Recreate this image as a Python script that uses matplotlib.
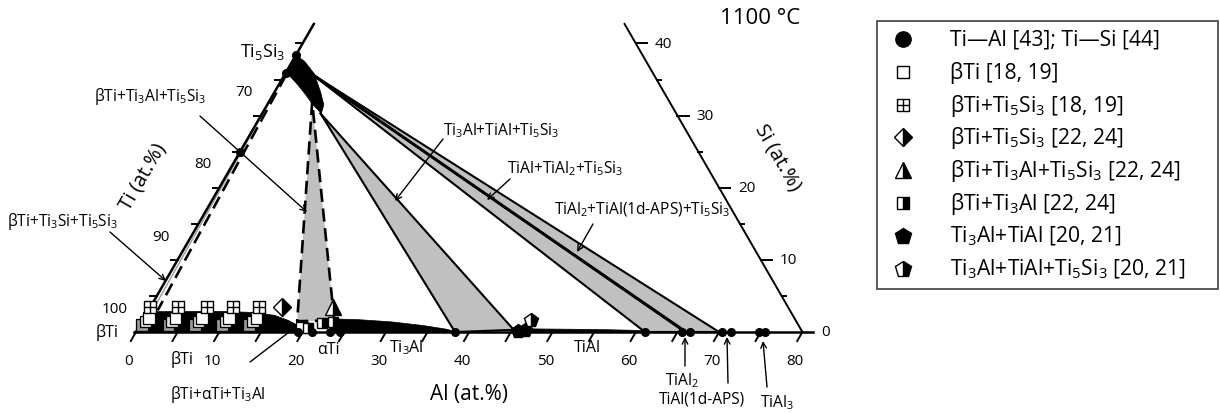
import numpy as np
import matplotlib
matplotlib.use("Agg")
import matplotlib.pyplot as plt
from matplotlib.path import Path
from matplotlib.patches import Rectangle

plt.rcParams['font.family'] = ['Open Sans', 'DejaVu Sans']
plt.rcParams['mathtext.fontset'] = 'custom'
plt.rcParams['mathtext.rm'] = 'Open Sans'
plt.rcParams['mathtext.default'] = 'regular'

# ---------------- data: compositions as (Al at.%, Si at.%) ----------------
# single-phase fields
bti_al = [0, 0, 4, 9, 13, 15.5, 17.5, 19, 20.5]
bti_si = [0, 2.8, 2.85, 2.85, 2.7, 2.3, 1.6, 0.9, 0]
ti3al_al = [23.2, 23.3, 26, 30, 34, 37, 38.6]
ti3al_si = [0, 1.8, 1.7, 1.4, 0.9, 0.4, 0]
tial_al = [45.5, 45.5, 50, 55, 61.1, 61.1]
tial_si = [0, 0.45, 0.4, 0.35, 0.2, 0]
ti5si3_al = [0, 1.5, 3.5, 5.5, 6.8, 7.1, 5.5, 3.8, 2.0, 0.3, 0]
ti5si3_si = [38.4, 37.5, 35.8, 33.3, 31.5, 30.3, 31.5, 33, 34.5, 35.8, 36]

# three-phase triangles
tri1_al, tri1_si = [5.2, 18.6, 23.0], [31.9, 1.5, 1.6]      # bTi+Ti3Al+Ti5Si3 (dashed)
tri2_al, tri2_si = [7.0, 38.3, 45.2], [30.3, 0, 0.3]        # Ti3Al+TiAl+Ti5Si3
tri3_al, tri3_si = [3.8, 61.1, 65.9], [35.4, 0, 0]          # TiAl+TiAl2+Ti5Si3
tri4_al, tri4_si = [2.2, 66.1, 70.0], [36.3, 0, 0]          # TiAl2+TiAl(1d-APS)+Ti5Si3
tial2_line_al, tial2_line_si = [3.0, 66.0], [35.9, 0]       # TiAl2+Ti5Si3
bts_dash_al, bts_dash_si = [0.2, 1.1], [35.6, 3.0]          # bTi+Ti5Si3 boundary
bts_thin_al, bts_thin_si = [0.0, 0.5], [36.0, 2.8]

# binary data Ti-Al [43]; Ti-Si [44]
dot_al = [0, 0, 0, 19.5, 21.1, 23.3, 24.5, 38.3, 61.1, 65.5, 66.5, 70.3, 71.4, 74.8, 75.5]
dot_si = [38.4, 35.9, 24.9, 0, 0, 0, 0, 0, 0, 0, 0, 0, 0, 0, 0]

# bTi [18, 19]
bti_sq_al = [0.2, 0.4, 0.6, 3.4, 3.6, 3.8, 6.6, 6.8, 7.0, 9.8, 10.0, 10.2, 13.1, 13.3, 13.5, 19.6]
bti_sq_si = [1.0, 1.45, 1.9] * 5 + [0.6]
# bTi+Ti5Si3 [18, 19]
bts_al = [0.0, 3.4, 6.8, 10.0, 13.1]
bts_si = [3.4, 3.4, 3.4, 3.4, 3.4]
# bTi+Ti5Si3 [22, 24]
bts2_al, bts2_si = [15.8], [3.4]
# bTi+Ti3Al+Ti5Si3 [22, 24]
btt_al, btt_si = [22.0], [3.4]
# bTi+Ti3Al [22, 24]
bt3_al, bt3_si = [20.3, 21.7, 23.0], [0.6, 1.2, 1.4]
# Ti3Al+TiAl [20, 21]
t3t_al, t3t_si = [45.8, 46.6], [0.2, 0.3]
# Ti3Al+TiAl+Ti5Si3 [20, 21]
t3tt_al, t3tt_si = [46.6], [1.6]

bottom_ticks = list(range(0, 81, 5))
side_ticks = list(range(5, 45, 5))

# ---------------- helpers ----------------
R3 = np.sqrt(3) / 2
SCALE, OX, OY = 8.33, 136, 333


def cart(al, si):
    al = np.asarray(al, dtype=float)
    si = np.asarray(si, dtype=float)
    return al + si / 2, si * R3


def px(x, y):
    return (x - OX) / SCALE, (OY - y) / SCALE


fig = plt.figure(figsize=(12.2, 4.14), dpi=100)
ax = fig.add_axes([0, 0, 1, 1])
ax.set_xlim(px(0, 0)[0], px(1220, 0)[0])
ax.set_ylim(px(0, 414)[1], px(0, 0)[1])
ax.set_axis_off()

GRAY = '#c0c0c0'

# three-phase fields
for a, s, ls in [(tri1_al, tri1_si, (0, (5, 2.5))), (tri2_al, tri2_si, '-'),
                 (tri3_al, tri3_si, '-'), (tri4_al, tri4_si, '-')]:
    x, y = cart(a, s)
    ax.fill(x, y, color=GRAY, zorder=1, lw=0)
    ax.plot(np.r_[x, x[0]], np.r_[y, y[0]], color='black', lw=1.5 if ls == '-' else 1.9,
            linestyle=ls, zorder=2)

ax.plot(*cart(tial2_line_al, tial2_line_si), color='black', lw=2.0, zorder=2)
ax.plot(*cart(bts_dash_al, bts_dash_si), color='black', lw=1.9, linestyle=(0, (5, 2.5)), zorder=2)
ax.plot(*cart(bts_thin_al, bts_thin_si), color='#9a9a9a', lw=1.0, zorder=2)

# single-phase fields
for a, s in [(bti_al, bti_si), (ti3al_al, ti3al_si), (tial_al, tial_si), (ti5si3_al, ti5si3_si)]:
    ax.fill(*cart(a, s), color='black', lw=0.5, zorder=3)

# axes
ax.plot(*cart([-0.2, 81.3], [0, 0]), color='black', lw=1.8, zorder=4)
ax.plot(*cart([0, 0], [0, 42.7]), color='black', lw=1.8, zorder=4)
ax.plot(*cart([80, 80 - 42.7], [0, 42.7]), color='black', lw=1.4, zorder=4)

tl = 1.25
for a in bottom_ticks:
    x0, y0 = cart(a, 0)
    ax.plot([x0, x0 - 0.5 * tl], [y0, y0 - R3 * tl], color='black', lw=1.4, zorder=4)
    if a % 10 == 0:
        ax.text(x0 - 0.85, -3.45, str(a), ha='center', va='center', fontsize=11)
for s in side_ticks:
    x0, y0 = cart(0, s)
    ax.plot([x0, x0 - 0.8], [y0, y0], color='black', lw=1.4, zorder=4)
    x1, y1 = cart(80 - s, s)
    ax.plot([x1, x1 + (1.35 if s % 10 == 0 else 0.5)], [y1, y1], color='black', lw=1.4, zorder=4)
    if s % 10 == 0:
        ax.text(x1 + 2.3, y1, str(s), ha='left', va='center', fontsize=11)
        if s <= 30:
            ax.text(x0 - 0.95, y0 + 2.85, str(100 - s), ha='right', va='center', fontsize=11)
ax.text(-0.95 - 0.1, 2.8, '100', ha='right', va='center', fontsize=11)
ax.text(80 + 2.3, 0, '0', ha='left', va='center', fontsize=11)

# markers
ax.scatter(*cart(bti_sq_al, bti_sq_si), marker='s', s=70,
           facecolors=['#9a9a9a', '#e0e0e0', 'white'] * 5 + ['white'],
           edgecolors='black', linewidths=0.9, zorder=5)
cross_sq = Path([(-1, -1), (1, -1), (1, 1), (-1, 1), (-1, -1), (0, -1), (0, 1), (-1, 0), (1, 0)],
                [Path.MOVETO, Path.LINETO, Path.LINETO, Path.LINETO, Path.CLOSEPOLY,
                 Path.MOVETO, Path.LINETO, Path.MOVETO, Path.LINETO])
ax.plot(*cart(bts_al, bts_si), ls='none', marker=cross_sq, ms=9, mfc='white', mec='black', mew=1.0, zorder=5)
half = dict(ls='none', fillstyle='right', mfc='black', mfcalt='white', mec='black', mew=1.0, zorder=6)
ax.plot(*cart(bts2_al, bts2_si), marker='D', ms=9, **half)
ax.plot(*cart(btt_al, btt_si), marker='^', ms=11, **half)
ax.plot(*cart(bt3_al, bt3_si), marker='s', ms=7, **half)
ax.plot(*cart(t3t_al, t3t_si), ls='none', marker='p', ms=10, color='black', zorder=6)
ax.plot(*cart(t3tt_al, t3tt_si), marker='p', ms=10, **half)
ax.plot(*cart(dot_al, dot_si), ls='none', marker='o', ms=5.5, color='black', zorder=7)

# text labels
ax.text(*px(760, 19), '1100 °C', ha='center', va='center', fontsize=16)
ax.text(*px(143, 177), 'Ti (at.%)', ha='center', va='center', fontsize=14.5, rotation=60)
ax.text(*px(778, 158), 'Si (at.%)', ha='center', va='center', fontsize=14.5, rotation=-60)
ax.text(*px(469, 395), 'Al (at.%)', ha='center', va='center', fontsize=15)
ax.text(*px(263, 52), 'Ti$_5$Si$_3$', ha='center', va='center', fontsize=13)
for t, (x, y) in [('βTi', (107, 333)), ('βTi', (182, 360)), ('αTi', (328, 350)),
                  ('Ti$_3$Al', (406, 348)), ('TiAl', (587, 348))]:
    ax.text(*px(x, y), t, ha='center', va='center', fontsize=11.5)

notes = [
    ('βTi+Ti$_3$Al+Ti$_5$Si$_3$', (150, 97), (200, 117), (307, 213)),
    ('βTi+Ti$_3$Si+Ti$_5$Si$_3$', (62, 222), (110, 233), (166, 282)),
    ('βTi+αTi+Ti$_3$Al', (218, 395), (250, 363), (297, 327)),
    ('Ti$_3$Al+TiAl+Ti$_5$Si$_3$', (501, 131), (443, 140), (395, 202)),
    ('TiAl+TiAl$_2$+Ti$_5$Si$_3$', (565, 169), (510, 180), (487, 201)),
    ('TiAl$_2$+TiAl(1d-APS)+Ti$_5$Si$_3$', (642, 210), (593, 225), (577, 253)),
    ('TiAl$_2$', (682, 381), (685, 367), (685, 338)),
    ('TiAl(1d-APS)', (702, 400), (728, 384), (727, 338)),
    ('TiAl$_3$', (777, 403), (767, 388), (763, 342)),
]
for t, tp, tail, tip in notes:
    ax.text(*px(*tp), t, ha='center', va='center', fontsize=11.2)
    ax.annotate('', xy=px(*tip), xytext=px(*tail),
                arrowprops=dict(arrowstyle='->', lw=1.0, color='black', shrinkA=0, shrinkB=0,
                                mutation_scale=10), zorder=8)

# legend box
bx0, by0 = px(877, 290)
ax.add_patch(Rectangle((bx0, by0), 341 / SCALE, 268 / SCALE, fill=False, ec='#404040', lw=1.2))
legend_rows = [
    ('Ti—Al [43]; Ti—Si [44]', dict(marker='o', ms=11, color='black')),
    ('βTi [18, 19]', dict(marker='s', ms=8.5, mfc='white', mec='black', mew=1.0)),
    ('βTi+Ti$_5$Si$_3$ [18, 19]', dict(marker=cross_sq, ms=8, mfc='white', mec='black', mew=1.0)),
    ('βTi+Ti$_5$Si$_3$ [22, 24]', dict(marker='D', ms=9, fillstyle='right', mfc='black', mfcalt='white', mec='black', mew=1.0)),
    ('βTi+Ti$_3$Al+Ti$_5$Si$_3$ [22, 24]', dict(marker='^', ms=11, fillstyle='right', mfc='black', mfcalt='white', mec='black', mew=1.0)),
    ('βTi+Ti$_3$Al [22, 24]', dict(marker='s', ms=9, fillstyle='right', mfc='black', mfcalt='white', mec='black', mew=1.0)),
    ('Ti$_3$Al+TiAl [20, 21]', dict(marker='p', ms=12, color='black')),
    ('Ti$_3$Al+TiAl+Ti$_5$Si$_3$ [20, 21]', dict(marker='p', ms=12, fillstyle='right', mfc='black', mfcalt='white', mec='black', mew=1.0)),
]
for i, (label, style) in enumerate(legend_rows):
    yrow = 40 + 32.8 * i
    ax.plot(*px(903, yrow), ls='none', **style)
    ax.text(*px(950, yrow), label, ha='left', va='center', fontsize=15.2)

fig.savefig('out.png', dpi=100)
